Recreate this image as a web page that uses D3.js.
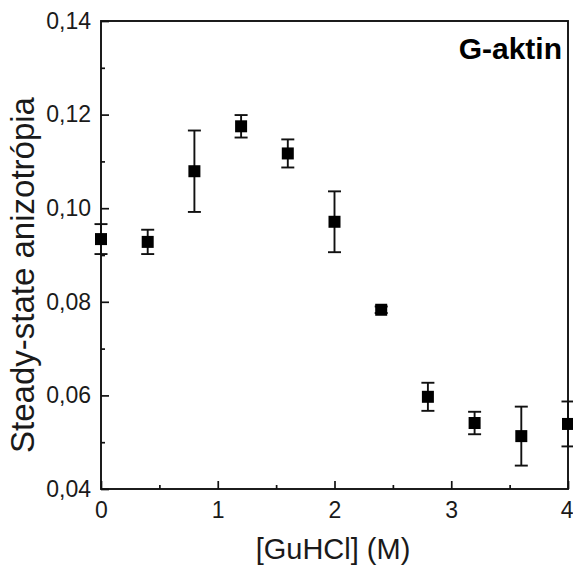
<!DOCTYPE html>
<html>
<head>
<meta charset="utf-8">
<script src="https://cdn.jsdelivr.net/npm/d3@7"></script>
<style>
  html, body { margin: 0; padding: 0; background: #fff; }
  svg { display: block; font-family: Arial, "Liberation Sans", sans-serif; }
</style>
</head>
<body>
<div id="app"></div>
<script>
// GuHCl concentration (M)
const conc = [0, 0.4, 0.8, 1.2, 1.6, 2.0, 2.4, 2.8, 3.2, 3.6, 4.0];
// steady-state anisotropy
const aniso = [0.0934, 0.0928, 0.1079, 0.1175, 0.1117, 0.0971, 0.0783, 0.0597, 0.0541, 0.0513, 0.0539];
// error bars (±)
const errs = [0.0032, 0.0026, 0.0087, 0.0024, 0.0030, 0.0065, 0.0007, 0.0030, 0.0024, 0.0063, 0.0048];

const xTicks = [0, 1, 2, 3, 4];
const xMinor = [0.5, 1.5, 2.5, 3.5];
const yTicks = [0.04, 0.06, 0.08, 0.10, 0.12, 0.14];
const yMinor = [0.05, 0.07, 0.09, 0.11, 0.13];

const WIDTH = 573;
const HEIGHT = 572;
const margin = { left: 101, right: 5, top: 21, bottom: 83 };
const MARKER = 12;
const CAP = 13;

const x = d3.scaleLinear().domain([0, 4]).range([margin.left, WIDTH - margin.right]);
const y = d3.scaleLinear().domain([0.04, 0.14]).range([HEIGHT - margin.bottom, margin.top]);

const svg = d3.select("#app").append("svg")
  .attr("width", WIDTH)
  .attr("height", HEIGHT);

const data = conc.map((c, i) => ({ c, v: aniso[i], e: errs[i] }));

const fmt = (d) => d3.format(".2f")(d).replace(".", ",");

// axes with inward ticks
const xAxis = svg.append("g")
  .attr("transform", `translate(0,${y.range()[0]})`)
  .call(d3.axisBottom(x).tickValues(xTicks).tickSize(-8).tickPadding(13).tickFormat(d3.format("d")));
svg.append("g")
  .attr("transform", `translate(0,${y.range()[0]})`)
  .call(d3.axisBottom(x).tickValues(xMinor).tickSize(-4).tickFormat(""))
  .call((g) => g.select(".domain").remove());

const yAxis = svg.append("g")
  .attr("transform", `translate(${x.range()[0]},0)`)
  .call(d3.axisLeft(y).tickValues(yTicks).tickSize(-8).tickPadding(10).tickFormat(fmt));
svg.append("g")
  .attr("transform", `translate(${x.range()[0]},0)`)
  .call(d3.axisLeft(y).tickValues(yMinor).tickSize(-4).tickFormat(""))
  .call((g) => g.select(".domain").remove());

svg.selectAll(".tick line").attr("stroke", "#111").attr("stroke-width", 1.7);
svg.selectAll(".domain").remove();
svg.selectAll(".tick text")
  .attr("fill", "#1a1a1a")
  .style("font-size", "23px");
xAxis.selectAll(".tick text").attr("dy", "0.71em");
// last label sits on the window edge: keep it inside
xAxis.selectAll(".tick text").filter((d) => d === 4)
  .attr("text-anchor", "end")
  .attr("x", 5);

// frame
svg.append("rect")
  .attr("x", x.range()[0])
  .attr("y", y.range()[1])
  .attr("width", x.range()[1] - x.range()[0])
  .attr("height", y.range()[0] - y.range()[1])
  .attr("fill", "none")
  .attr("stroke", "#111")
  .attr("stroke-width", 1.9);

// error bars
const eb = svg.append("g").attr("stroke", "#111").attr("stroke-width", 1.9);
eb.selectAll("line.bar").data(data).join("line")
  .attr("class", "bar")
  .attr("x1", (d) => x(d.c)).attr("x2", (d) => x(d.c))
  .attr("y1", (d) => y(d.v + d.e)).attr("y2", (d) => y(d.v - d.e));
eb.selectAll("line.top").data(data).join("line")
  .attr("class", "top")
  .attr("x1", (d) => x(d.c) - CAP / 2).attr("x2", (d) => x(d.c) + CAP / 2)
  .attr("y1", (d) => y(d.v + d.e)).attr("y2", (d) => y(d.v + d.e));
eb.selectAll("line.bot").data(data).join("line")
  .attr("class", "bot")
  .attr("x1", (d) => x(d.c) - CAP / 2).attr("x2", (d) => x(d.c) + CAP / 2)
  .attr("y1", (d) => y(d.v - d.e)).attr("y2", (d) => y(d.v - d.e));

// markers
svg.append("g").selectAll("rect").data(data).join("rect")
  .attr("x", (d) => x(d.c) - MARKER / 2)
  .attr("y", (d) => y(d.v) - MARKER / 2)
  .attr("width", MARKER)
  .attr("height", MARKER)
  .attr("fill", "#000");

// titles
svg.append("text")
  .attr("x", 333)
  .attr("y", 559)
  .attr("text-anchor", "middle")
  .attr("fill", "#1a1a1a")
  .style("font-size", "29px")
  .text("[GuHCl] (M)");

svg.append("text")
  .attr("transform", "translate(34,275) rotate(-90)")
  .attr("text-anchor", "middle")
  .attr("fill", "#1a1a1a")
  .style("font-size", "33px")
  .text("Steady-state anizotrópia");

svg.append("text")
  .attr("x", 562)
  .attr("y", 59)
  .attr("text-anchor", "end")
  .attr("fill", "#000")
  .style("font-size", "30px")
  .style("font-weight", "bold")
  .text("G-aktin");
</script>
</body>
</html>
